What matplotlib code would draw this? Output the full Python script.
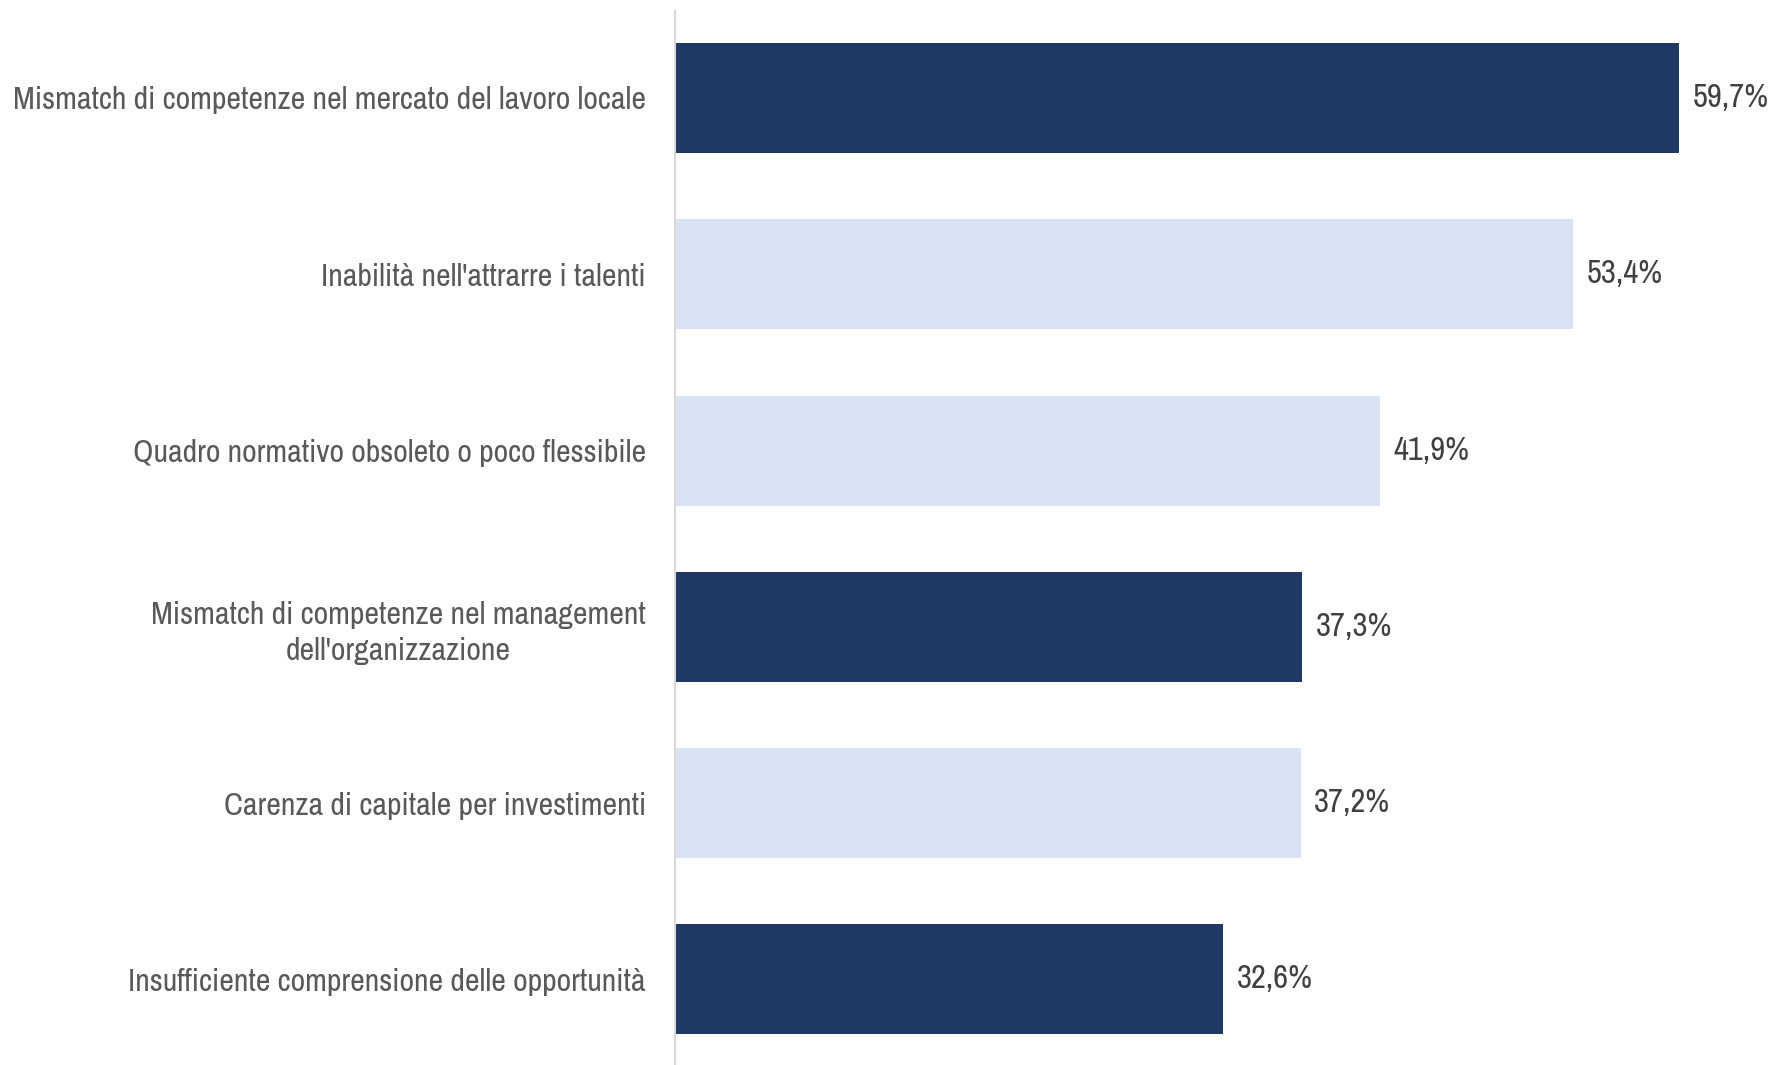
import matplotlib
matplotlib.use("Agg")
import matplotlib.pyplot as plt
from matplotlib import font_manager

# Data
categories = [
    "Mismatch di competenze nel mercato del lavoro locale",
    "Inabilità nell'attrarre i talenti",
    "Quadro normativo obsoleto o poco flessibile",
    "Mismatch di competenze nel management\ndell'organizzazione",
    "Carenza di capitale per investimenti",
    "Insufficiente comprensione delle opportunità",
]
values = [59.7, 53.4, 41.9, 37.3, 37.2, 32.6]
highlight = [True, False, False, True, False, True]

dark = "#203864"
light = "#DAE3F3"

# narrow font like Arial Narrow, whichever is installed
names = {f.name for f in font_manager.fontManager.ttflist}
family = "Liberation Sans"
size = 17
if "Liberation Sans Narrow" in names:
    family, size = "Liberation Sans Narrow", 21
elif "Archivo Narrow" in names:
    family, size = "Archivo Narrow", 23
plt.rcParams["font.family"] = [family, "DejaVu Sans"]

fig = plt.figure(figsize=(17.76, 10.65), dpi=100)
ax = fig.add_axes([675 / 1776, 0, 1 - 675 / 1776, 1 - 11 / 1065])

y = list(range(len(values)))
colors = [dark if h else light for h in highlight]
ax.barh(y, values, height=0.624, color=colors, edgecolor="none")

for yi, v in zip(y, values):
    ax.text(v + 0.8, yi, f"{v:.1f}%".replace(".", ","), va="center", ha="left",
            fontsize=size + 0.5, color="#404040")

ax.set_xlim(0, 65.46)
ax.set_ylim(5.485, -0.493)

ax.set_yticks(y)
ax.set_yticklabels(categories, fontsize=size, color="#595959",
                   multialignment="center", linespacing=1.32)
ax.tick_params(axis="y", length=0, pad=21)
ax.set_xticks([])

for s in ["top", "right", "bottom"]:
    ax.spines[s].set_visible(False)
ax.spines["left"].set_color("#D9D9D9")
ax.spines["left"].set_linewidth(1.5)

fig.savefig("out.png", dpi=100)
